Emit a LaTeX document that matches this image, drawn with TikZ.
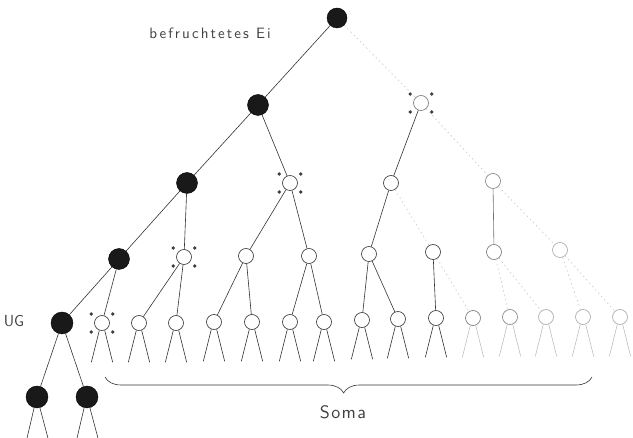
\documentclass[tikz,border=0pt]{standalone}
\usepackage{fontspec}
\usepackage{tikz}
\usetikzlibrary{decorations.pathreplacing}
\newfontfamily\eifont{lmsans10-regular.otf}[LetterSpace=14]
\newfontfamily\somafont{lmsans10-regular.otf}[LetterSpace=8]

\tikzset{
  germ/.style={circle, fill=black!90, draw=black, inner sep=0pt, minimum size=21pt},
  soma/.style={circle, draw=black!80, fill=white, inner sep=0pt, minimum size=15pt, line width=0.6pt},
  palesoma/.style={soma, draw=black!35},
  line/.style={draw=black!80, line width=0.6pt},
  paleline/.style={draw=black!30, line width=0.5pt},
  faint/.style={draw=black!25, line width=0.5pt, dash pattern=on 1.5pt off 3pt},
  label/.style={text=black!75, font=\sffamily},
}

\begin{document}
\begin{tikzpicture}[x=1pt, y=-1pt]
\useasboundingbox (0,0) rectangle (633,438);

% germ line
\node[germ, minimum size=20pt] (g0) at (337,18) {};
\node[germ] (g1) at (258,105) {};
\node[germ] (g2) at (187,183) {};
\node[germ] (g3) at (119,259) {};
\node[germ, minimum size=22pt] (g4) at (62,323) {};
\node[germ, minimum size=22pt] (g5) at (37,397) {};
\node[germ, minimum size=22pt] (g6) at (87,397) {};

% somatic cells with dots
\node[soma, draw=black!55] (d1) at (421,103) {};
\node[soma] (d2) at (290,183) {};
\node[soma] (d3) at (184,257) {};
\node[soma] (d4) at (102,323) {};
\foreach \d in {d1,d2,d3,d4}
  \foreach \a in {40,140,220,320}
    \fill[black!75] (\d) ++(\a:14) circle (1.9);

\node[soma] (a1) at (391,183) {};
\node[soma, draw=black!50] (a2) at (493,181) {};

\node[soma] (b1) at (246,256) {};
\node[soma] (b2) at (309,256) {};
\node[soma] (b3) at (369,254) {};
\node[soma] (b4) at (433,252) {};
\node[soma, draw=black!55] (b5) at (494,252) {};
\node[palesoma] (b6) at (560,250) {};

\node[soma] (c1) at (139,323) {};
\node[soma] (c2) at (176,323) {};
\node[soma] (c3) at (214,322) {};
\node[soma] (c4) at (252,322) {};
\node[soma] (c5) at (290,322) {};
\node[soma] (c6) at (324,322) {};
\node[soma] (c7) at (362,320) {};
\node[soma] (c8) at (398,319) {};
\node[soma] (c9) at (436,318) {};
\node[soma, draw=black!55] (c10) at (473,318) {};
\node[soma, draw=black!50] (c11) at (510,317) {};
\node[palesoma] (c12) at (546,317) {};
\node[palesoma] (c13) at (583,317) {};
\node[palesoma] (c14) at (620,317) {};

% divisions
\draw[line] (g0) -- (g1);
\draw[faint] (g0) -- (d1);
\draw[line] (g1) -- (g2);
\draw[line] (g1) -- (d2);
\draw[line] (g2) -- (g3);
\draw[line] (g2) -- (d3);
\draw[line] (g3) -- (g4);
\draw[line] (g3) -- (d4);
\draw[line] (g4) -- (g5);
\draw[line] (g4) -- (g6);

\draw[line] (d1) -- (a1);
\draw[faint] (d1) -- (a2);
\draw[line] (d2) -- (b1);
\draw[line] (d2) -- (b2);
\draw[line] (d3) -- (c1);
\draw[line] (d3) -- (c2);
\draw[line] (a1) -- (b3);
\draw[faint] (a1) -- (b4);
\draw[line, draw=black!55] (a2) -- (b5);
\draw[faint] (a2) -- (b6);
\draw[line] (b1) -- (c3);
\draw[line] (b1) -- (c4);
\draw[line] (b2) -- (c5);
\draw[line] (b2) -- (c6);
\draw[line] (b3) -- (c7);
\draw[line] (b3) -- (c8);
\draw[line] (b4) -- (c9);
\draw[faint] (b4) -- (c10);
\draw[faint] (b5) -- (c11);
\draw[faint] (b5) -- (c12);
\draw[faint] (b6) -- (c13);
\draw[faint] (b6) -- (c14);

% legs
\foreach \n in {g5,g6}
  \draw[line] (\n.255) -- ++(-7,30) (\n.285) -- ++(8,30);
\foreach \n in {d4,c1,c2,c3,c4,c5,c6,c7,c8,c9}
  \draw[line] (\n.250) -- ++(-8,32) (\n.290) -- ++(8,32);
\foreach \n in {c10,c11,c12,c13,c14}
  \draw[paleline] (\n.250) -- ++(-8,32) (\n.290) -- ++(8,32);

% labels
\node[label, font=\fontsize{15}{17}\eifont] (ei) at (210,33) {befruchtetes Ei};
\node[label, font=\fontsize{16}{18}\sffamily] (ug) at (14,321) {UG};
\coordinate (bl) at (105,377);
\coordinate (br) at (592,377);
\draw[line, decorate, decoration={brace, mirror, amplitude=16pt, aspect=0.49}] (bl) -- (br);
\node[label, font=\fontsize{18}{20}\somafont] (soma) at (343,412) {Soma};

\end{tikzpicture}
\end{document}
